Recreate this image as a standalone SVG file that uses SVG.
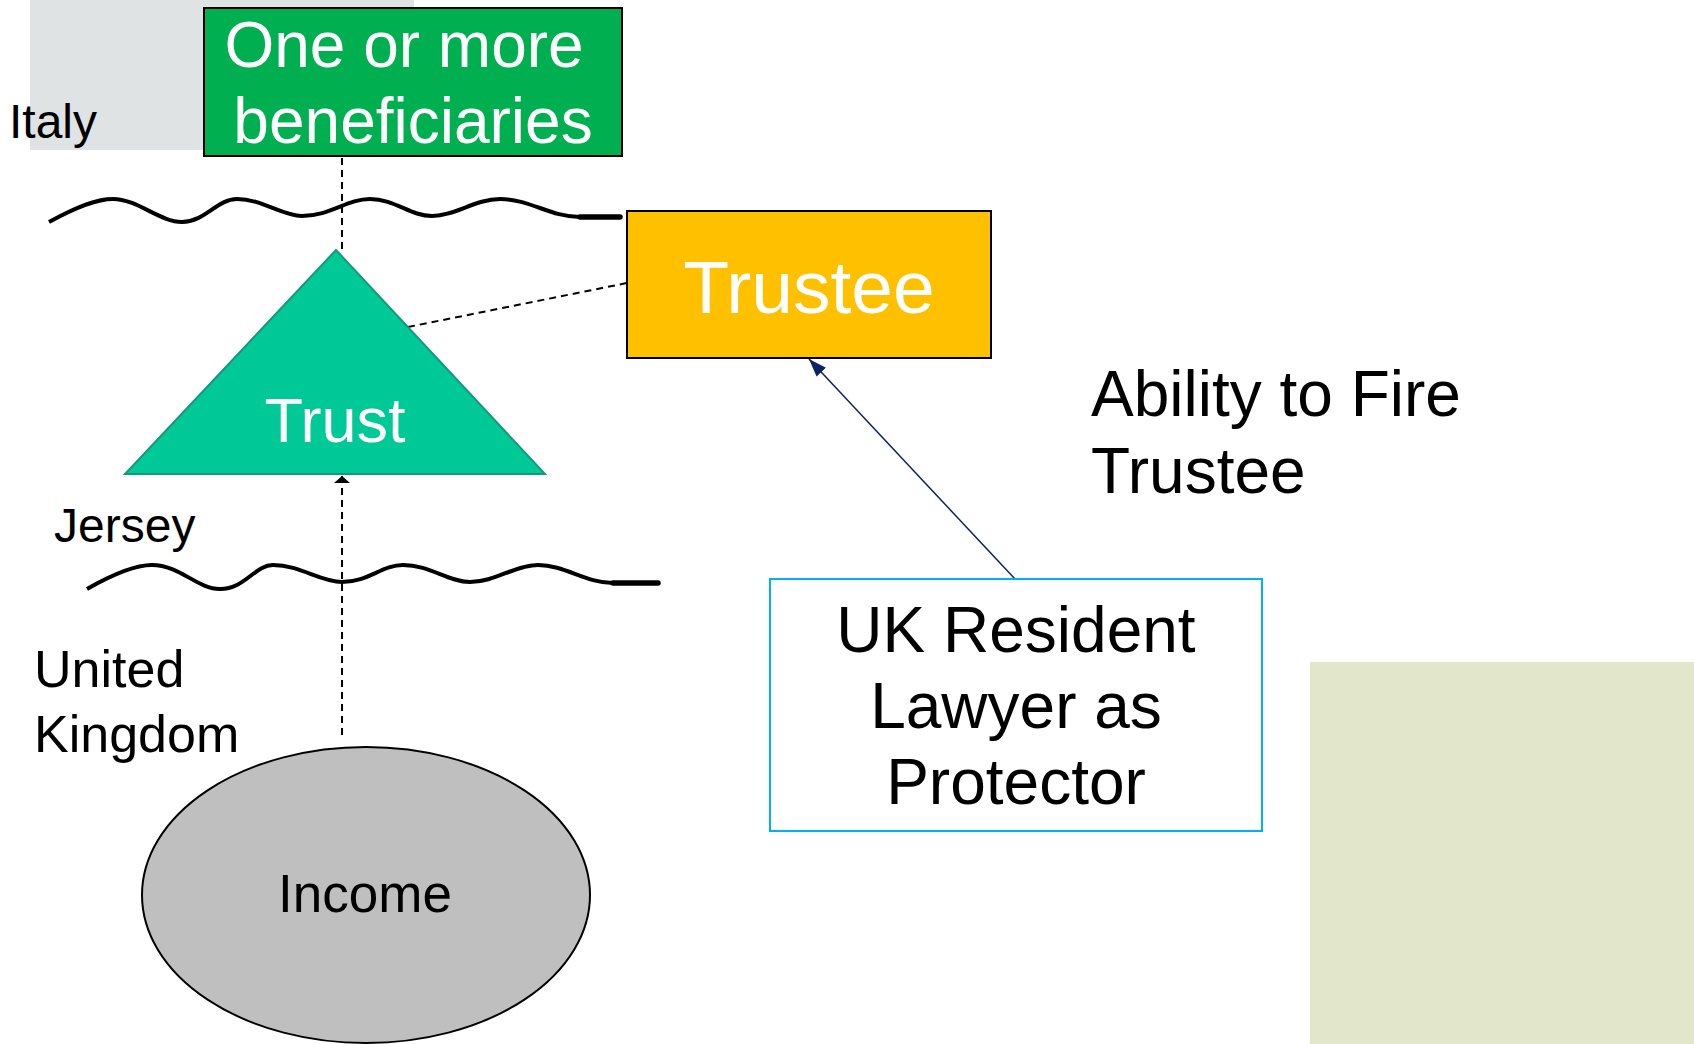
<svg xmlns="http://www.w3.org/2000/svg" width="1694" height="1044" viewBox="0 0 1694 1044">
<style>
text{font-family:"Liberation Sans",Arial,sans-serif}
.w{fill:#ffffff}
.k{fill:#000000}
.wave{fill:none;stroke:#000;stroke-width:4;stroke-linecap:butt}
.stub{stroke:#000;stroke-width:5.5;stroke-linecap:round}
.dash{fill:none;stroke:#000;stroke-width:2;stroke-dasharray:7,5}
</style>
<defs>
<marker id="ahBlack" markerUnits="userSpaceOnUse" viewBox="0 -9 8 18" refX="7" refY="0" markerWidth="8" markerHeight="18" orient="auto">
<path d="M0,-8 L7,0 L0,8 z" fill="#000"/>
</marker>
<marker id="ahNavy" markerUnits="userSpaceOnUse" viewBox="0 -7 19 14" refX="18" refY="0" markerWidth="19" markerHeight="14" orient="auto">
<path d="M0,-6.5 L18,0 L0,6.5 z" fill="#0B2364"/>
</marker>
</defs>
<rect width="1694" height="1044" fill="#ffffff"/>
<rect id="bg-gray" x="30" y="0" width="384" height="150" fill="#DFE3E3"/>
<rect id="bg-olive" x="1310" y="662" width="384" height="382" fill="#E2E6CA"/>

<g id="borders">
<path class="wave" d="M49,222 C80,205 98,199 113,199 C137,199 160,222 182,222 C205,222 217,199 237,199 C262,199 282,216 302,216 C330,216 347,199 370,199 C395,199 410,216 432,216 C455,216 475,199 500,199 C530,199 550,217 580,217"/>
<line class="stub" x1="580" y1="217" x2="620" y2="217"/>
<path class="wave" d="M87,589 C115,573 135,565 152,565 C180,565 197,589 220,589 C245,589 255,565 273,565 C300,565 320,582 342,582 C368,582 382,565 403,565 C430,565 448,582 470,582 C495,582 515,565 538,565 C565,565 585,583 613,583"/>
<line class="stub" x1="613" y1="583" x2="658" y2="583"/>
</g>

<g id="labels">
<text x="9" y="138" font-size="48" class="k">Italy</text>
<text x="54" y="542" font-size="48" class="k">Jersey</text>
<text x="34" y="687" font-size="52" class="k">United</text>
<text x="34" y="752" font-size="52" class="k">Kingdom</text>
<text x="1091" y="416" font-size="64" class="k">Ability to Fire</text>
<text x="1091" y="493" font-size="64" class="k">Trustee</text>
</g>

<g id="connectors">
<line class="dash" x1="342" y1="158" x2="342" y2="249"/>
<line class="dash" x1="408" y1="327" x2="627" y2="283"/>
<line class="dash" x1="342" y1="735" x2="342" y2="476" marker-end="url(#ahBlack)"/>
<line x1="1015" y1="579" x2="809" y2="359" stroke="#0B2364" stroke-width="1.5" marker-end="url(#ahNavy)"/>
</g>

<g id="node-beneficiaries">
<rect x="204" y="8" width="418" height="148" fill="#00B050" stroke="#000" stroke-width="2"/>
<text x="404" y="67" font-size="64" class="w" text-anchor="middle">One or more</text>
<text x="413" y="143" font-size="64" class="w" text-anchor="middle">beneficiaries</text>
</g>

<g id="node-trust">
<polygon points="336,250 545,474 125,474" fill="#00C998" stroke="#16997A" stroke-width="2" stroke-linejoin="miter"/>
<text x="335" y="442" font-size="63" class="w" text-anchor="middle">Trust</text>
</g>

<g id="node-trustee">
<rect x="627" y="211" width="364" height="147" fill="#FFC000" stroke="#000" stroke-width="2"/>
<text x="809" y="313" font-size="75" class="w" text-anchor="middle">Trustee</text>
</g>

<g id="node-protector">
<rect x="770" y="579" width="492" height="252" fill="#ffffff" stroke="#00B0F0" stroke-width="2"/>
<text x="1016" y="652" font-size="64" class="k" text-anchor="middle">UK Resident</text>
<text x="1016" y="728" font-size="64" class="k" text-anchor="middle">Lawyer as</text>
<text x="1016" y="804" font-size="64" class="k" text-anchor="middle">Protector</text>
</g>

<g id="node-income">
<ellipse cx="366" cy="895" rx="224" ry="148" fill="#BFBFBF" stroke="#000" stroke-width="2"/>
<text x="365" y="912" font-size="53" class="k" text-anchor="middle">Income</text>
</g>
</svg>
